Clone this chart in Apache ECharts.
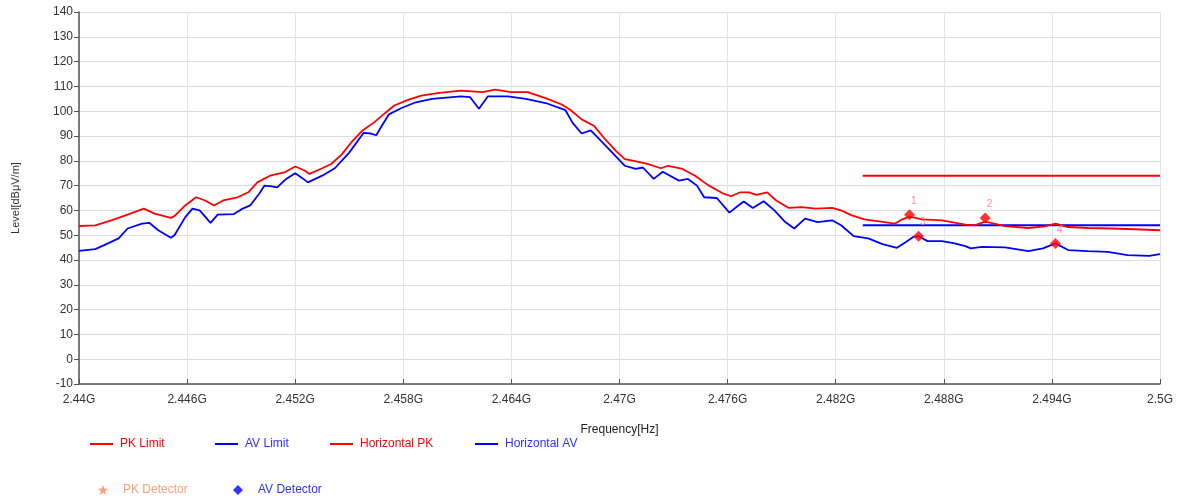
<!DOCTYPE html>
<html>
<head>
<meta charset="utf-8">
<script src="https://cdn.jsdelivr.net/npm/echarts@6/dist/echarts.min.js"></script>
<style>
  html, body { margin: 0; padding: 0; background: #fff; }
  #chart { width: 1182px; height: 501px; }
</style>
</head>
<body>
<div id="chart"></div>
<script>
const F_MIN = 2.44, F_MAX = 2.5;

const pkTrace = [
  [2.4400, 53.7], [2.4409, 54.0], [2.4418, 56.0], [2.4427, 58.3], [2.4436, 60.7],
  [2.4442, 58.7], [2.4451, 57.0], [2.4453, 57.7], [2.4459, 62.0], [2.4465, 65.3],
  [2.4470, 64.0], [2.4475, 62.0], [2.4480, 64.0], [2.4488, 65.3], [2.4494, 67.3],
  [2.4499, 71.3], [2.4506, 74.0], [2.4514, 75.3], [2.4520, 77.7], [2.4525, 76.2],
  [2.4528, 74.7], [2.4535, 77.0], [2.4540, 78.7], [2.4546, 82.7], [2.4551, 87.3],
  [2.4557, 92.0], [2.4564, 95.6], [2.4570, 99.3], [2.4575, 102.3], [2.4583, 104.7],
  [2.4590, 106.3], [2.4599, 107.3], [2.4612, 108.3], [2.4624, 107.7], [2.4631, 108.7],
  [2.4640, 107.7], [2.4649, 107.7], [2.4659, 105.3], [2.4668, 102.7], [2.4673, 100.4],
  [2.4679, 96.7], [2.4686, 94.0], [2.4692, 88.7], [2.4698, 84.0], [2.4703, 80.7],
  [2.4710, 79.7], [2.4716, 78.7], [2.4723, 77.0], [2.4727, 78.0], [2.4735, 76.7],
  [2.4742, 74.0], [2.4749, 70.3], [2.4757, 67.0], [2.4762, 65.7], [2.4767, 67.3],
  [2.4772, 67.3], [2.4776, 66.3], [2.4782, 67.3], [2.4787, 64.0], [2.4794, 61.0],
  [2.4801, 61.3], [2.4809, 60.7], [2.4818, 61.0], [2.4823, 60.0], [2.4829, 58.0],
  [2.4836, 56.4], [2.4844, 55.6], [2.4853, 54.7], [2.4857, 56.4], [2.4861, 57.5],
  [2.4868, 56.4], [2.4879, 56.0], [2.4892, 54.3], [2.4897, 54.0], [2.4903, 55.5],
  [2.4914, 53.7], [2.4927, 52.9], [2.4936, 53.6], [2.4942, 54.7], [2.4949, 53.3],
  [2.4960, 52.9], [2.4973, 52.7], [2.4986, 52.4], [2.5000, 52.0]
];

const avTrace = [
  [2.4400, 43.7], [2.4409, 44.4], [2.4414, 46.0], [2.4422, 48.7], [2.4427, 52.7],
  [2.4435, 54.7], [2.4439, 55.0], [2.4444, 52.0], [2.4451, 49.0], [2.4453, 50.0],
  [2.4459, 57.3], [2.4463, 60.7], [2.4467, 60.0], [2.4473, 55.0], [2.4477, 58.3],
  [2.4486, 58.5], [2.4490, 60.4], [2.4495, 62.0], [2.4500, 66.7], [2.4503, 70.0],
  [2.4507, 69.7], [2.4510, 69.3], [2.4515, 72.7], [2.4520, 75.0], [2.4524, 73.0],
  [2.4527, 71.3], [2.4535, 74.0], [2.4542, 77.0], [2.4550, 83.3], [2.4558, 91.3],
  [2.4562, 91.0], [2.4565, 90.3], [2.4568, 94.0], [2.4572, 98.7], [2.4579, 101.3],
  [2.4587, 103.6], [2.4596, 105.0], [2.4612, 106.0], [2.4617, 105.7], [2.4622, 101.0],
  [2.4627, 106.0], [2.4638, 106.0], [2.4648, 105.0], [2.4659, 103.3], [2.4670, 100.4],
  [2.4674, 95.3], [2.4679, 91.0], [2.4684, 92.3], [2.4688, 89.3], [2.4696, 83.3],
  [2.4703, 78.0], [2.4709, 76.7], [2.4713, 77.3], [2.4719, 72.7], [2.4724, 75.6],
  [2.4733, 72.0], [2.4738, 72.7], [2.4743, 70.0], [2.4747, 65.3], [2.4754, 65.0],
  [2.4761, 59.1], [2.4766, 62.0], [2.4769, 63.6], [2.4774, 61.0], [2.4780, 63.7],
  [2.4786, 60.0], [2.4792, 55.3], [2.4797, 52.7], [2.4803, 56.7], [2.4810, 55.3],
  [2.4818, 56.0], [2.4823, 54.0], [2.4830, 49.6], [2.4838, 48.7], [2.4846, 46.4],
  [2.4854, 44.9], [2.4859, 47.3], [2.4863, 49.3], [2.4866, 49.6], [2.4871, 47.6],
  [2.4879, 47.6], [2.4886, 46.7], [2.4892, 45.6], [2.4895, 44.7], [2.4901, 45.3],
  [2.4914, 45.1], [2.4927, 43.6], [2.4935, 44.7], [2.4942, 46.7], [2.4949, 44.0],
  [2.4960, 43.6], [2.4971, 43.3], [2.4982, 42.0], [2.4994, 41.7], [2.5000, 42.4]
];

const pkLimit = [[2.4835, 74], [2.5, 74]];
const avLimit = [[2.4835, 54], [2.5, 54]];

const pkDetector = [[2.4861, 58.2], [2.4903, 56.9]];
const avDetector = [[2.4866, 49.6], [2.4942, 46.7]];
const pkDetectorNo = ['1', '2'];
const avDetectorNo = ['3', '4'];

const RED = '#ff0000', BLUE = '#0000ff';
const FONT = '"Liberation Sans", Arial, sans-serif';

// axe X en MHz depuis 2.44G pour que les graduations partent bien de min
const toAxis = (pts) => pts.map(([f, v]) => [+((f - F_MIN) * 1000).toFixed(2), v]);

function lineSeries(name, pts, color, width) {
  return {
    name, type: 'line', data: toAxis(pts), symbol: 'none',
    lineStyle: { color, width }, itemStyle: { color },
    animation: false, z: 3,
  };
}
function detectorSeries(name, pts, numbers) {
  return {
    name, type: 'scatter', data: toAxis(pts), symbol: 'diamond', symbolSize: 11,
    itemStyle: { color: RED }, z: 5, animation: false,
    label: {
      show: true, position: [7, -13], fontSize: 10, color: '#ff7070', fontFamily: FONT,
      formatter: (p) => numbers[p.dataIndex],
    },
  };
}

function legendAt(left, top, item) {
  return {
    left, top, padding: 0, itemWidth: 23, itemHeight: 2, itemGap: 0,
    icon: 'rect', selectedMode: false,
    textStyle: { fontSize: 12, fontFamily: FONT, padding: [0, 0, 0, 2] },
    data: [item],
  };
}
const starIcon = 'path://M5,0 L6.2,3.6 L10,3.8 L7,6.2 L8.1,10 L5,7.7 L1.9,10 L3,6.2 L0,3.8 L3.8,3.6 Z';

const option = {
  backgroundColor: '#fff',
  textStyle: { fontFamily: FONT },
  grid: { left: 79, right: 22, top: 12, bottom: 117 },
  xAxis: {
    type: 'value', min: 0, max: (F_MAX - F_MIN) * 1000, interval: 6,
    name: 'Frequency[Hz]', nameLocation: 'middle', nameGap: 40,
    nameTextStyle: { color: '#222', fontSize: 12, fontFamily: FONT },
    axisLine: { onZero: false, lineStyle: { color: '#555', width: 1.5 } },
    axisTick: { inside: true, length: 5, lineStyle: { color: '#555' } },
    axisLabel: {
      color: '#333', fontSize: 12, margin: 10, fontFamily: FONT,
      formatter: (v) => +((F_MIN * 1000 + v) / 1000).toFixed(3) + 'G',
    },
    splitLine: { show: true, lineStyle: { color: '#e4e4e4' } },
  },
  yAxis: {
    type: 'value', min: -10, max: 140, interval: 10,
    name: 'Level[dBμV/m]', nameLocation: 'middle', nameGap: 58, nameRotate: 90,
    nameTextStyle: { color: '#333', fontSize: 11, fontFamily: FONT },
    axisLine: { show: true, lineStyle: { color: '#555', width: 1.5 } },
    axisTick: { show: true, length: 5, lineStyle: { color: '#555' } },
    axisLabel: { color: '#333', fontSize: 12, margin: 6, fontFamily: FONT },
    splitLine: { lineStyle: { color: '#dcdcdc' } },
  },
  legend: [
    legendAt(90, 438, { name: 'PK Limit', textStyle: { color: RED } }),
    legendAt(215, 438, { name: 'AV Limit', textStyle: { color: '#3030ff' } }),
    legendAt(330, 438, { name: 'Horizontal PK', textStyle: { color: RED } }),
    legendAt(475, 438, { name: 'Horizontal AV', textStyle: { color: '#3030ff' } }),
    Object.assign(legendAt(98, 484, {
      name: 'PK Detector', icon: starIcon,
      itemStyle: { color: '#f98a55' }, textStyle: { color: '#f9a27a' },
    }), { itemWidth: 10, itemHeight: 10, textStyle: { fontSize: 12, fontFamily: FONT, padding: [0, 0, 0, 10] } }),
    Object.assign(legendAt(233, 484, {
      name: 'AV Detector', icon: 'diamond',
      itemStyle: { color: BLUE }, textStyle: { color: '#3030ff' },
    }), { itemWidth: 10, itemHeight: 10, textStyle: { fontSize: 12, fontFamily: FONT, padding: [0, 0, 0, 10] } }),
  ],
  series: [
    lineSeries('PK Limit', pkLimit, RED, 2),
    lineSeries('AV Limit', avLimit, BLUE, 2),
    lineSeries('Horizontal PK', pkTrace, RED, 1.8),
    lineSeries('Horizontal AV', avTrace, BLUE, 1.8),
    detectorSeries('PK Detector', pkDetector, pkDetectorNo),
    detectorSeries('AV Detector', avDetector, avDetectorNo),
  ],
};

const chart = echarts.init(document.getElementById('chart'), null, { renderer: 'canvas' });
chart.setOption(option);
</script>
</body>
</html>
